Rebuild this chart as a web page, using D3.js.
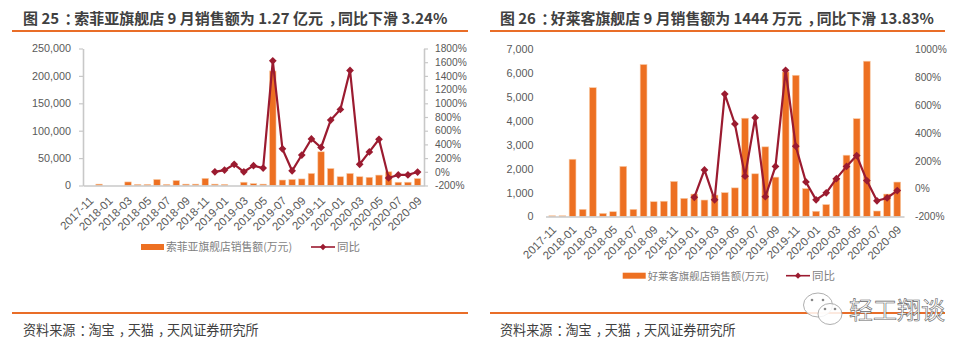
<!DOCTYPE html>
<html>
<head>
<meta charset="utf-8">
<script src="https://cdn.jsdelivr.net/npm/d3@7"></script>
<style>
  html, body { margin: 0; padding: 0; background: #fff; }
  svg { display: block; }
  text { font-family: "Liberation Sans", "Noto Sans CJK SC", sans-serif; }
  .cjk { font-family: "Noto Sans CJK SC", sans-serif; }
</style>
</head>
<body>
<div id="chart"></div>
<script>
const months = ['2017-11','2017-12','2018-01','2018-02','2018-03','2018-04','2018-05','2018-06','2018-07',
  '2018-08','2018-09','2018-10','2018-11','2018-12','2019-01','2019-02','2019-03','2019-04','2019-05',
  '2019-06','2019-07','2019-08','2019-09','2019-10','2019-11','2019-12','2020-01','2020-02','2020-03',
  '2020-04','2020-05','2020-06','2020-07','2020-08','2020-09'];

// 索菲亚
const sofiaSales = [0,2500,0,0,6500,2000,2000,11000,2000,9000,2500,2500,13000,2500,2000,0,6000,3500,2500,
  209000,10000,11000,12000,22000,61500,31000,16000,22000,16000,15000,19000,25000,6000,6000,12700];
const sofiaYoy = [null,null,null,null,null,null,null,null,null,null,null,null,null,0,25,110,0,90,55,
  1620,335,15,245,480,355,755,910,1480,110,290,475,-90,-45,-45,-3.24];
const sofiaLeftTicks = [0,50000,100000,150000,200000,250000];
const sofiaRightTicks = [-200,0,200,400,600,800,1000,1200,1400,1600,1800];

// 好莱客
const holikeSales = [30,30,2400,300,5400,130,200,2100,300,6370,620,640,1470,760,940,690,900,1000,1200,
  4120,1790,2920,1650,6060,5920,1170,220,500,1590,2570,4100,6510,230,940,1444];
const holikeYoy = [null,null,null,null,null,null,null,null,null,null,null,null,null,null,-62,135,-80,680,465,
  90,510,-58,160,850,305,48,-80,-30,72,160,238,58,-87,-67,-13.83];
const holikeLeftTicks = [0,1000,2000,3000,4000,5000,6000,7000];
const holikeRightTicks = [-200,0,200,400,600,800,1000];

const orange = '#ed7022';
const wine = '#9b1b30';
const grey = '#595959';
const axisGrey = '#c8c8c8';

const svg = d3.select('#chart').append('svg')
  .attr('width', 976)
  .attr('height', 353);

// the full width punctuation sits in the middle of its cell in the original
function addCjkText(parent, str, x, y, size, shift) {
  const t = parent.append('text').attr('class', 'cjk')
    .attr('x', x).attr('y', y)
    .attr('font-size', size);
  str.split(/([：，])/).forEach(part => {
    if (!part) return;
    const span = t.append('tspan').text(part);
    if (part === '：' || part === '，') {
      span.attr('dx', shift).attr('letter-spacing', -shift);
    }
  });
  return t;
}

function drawChart(cfg) {
  const x = d3.scaleBand().domain(months).range([cfg.x0, cfg.x1]).padding(0.33);
  const y = d3.scaleLinear().domain(cfg.leftDomain).range([cfg.y0, cfg.y1]);
  const yRight = d3.scaleLinear().domain(cfg.rightDomain).range([cfg.y0, cfg.y1]);
  const g = svg.append('g');

  // title, rules, source
  addCjkText(g, cfg.title, cfg.titleX, 23.5, cfg.titleSize, 5.5)
    .attr('font-weight', 700).attr('fill', '#404040');
  [31, 313].forEach(ry => {
    g.append('line')
      .attr('x1', cfg.ruleX0).attr('x2', cfg.ruleX1)
      .attr('y1', ry).attr('y2', ry)
      .attr('stroke', '#e96d28').attr('stroke-width', 2.2);
  });
  addCjkText(g, '资料来源：淘宝，天猫，天风证券研究所', cfg.titleX, 335, 13.1, 4)
    .attr('fill', '#404040');

  // bars
  g.selectAll('rect.bar')
    .data(cfg.sales.map((v, i) => ({ m: months[i], v })).filter(d => d.v > 0))
    .join('rect')
    .attr('class', 'bar')
    .attr('x', d => x(d.m))
    .attr('width', x.bandwidth())
    .attr('y', d => y(d.v))
    .attr('height', d => cfg.y0 - y(d.v))
    .attr('fill', orange)
    .attr('stroke', '#f8cba6')
    .attr('stroke-width', 0.6);

  // axes
  const xAxis = d3.axisBottom(x)
    .tickValues(months.filter((m, i) => i % 2 === 0))
    .tickSize(0);
  const gx = g.append('g').attr('transform', `translate(0,${cfg.y0})`).call(xAxis);
  gx.select('.domain').attr('stroke', axisGrey).attr('stroke-width', 1.6);
  gx.selectAll('text')
    .attr('font-size', 11.5)
    .attr('fill', grey)
    .attr('text-anchor', 'end')
    .attr('x', 0)
    .attr('y', 0)
    .attr('dy', '0.35em')
    .attr('transform', `translate(${cfg.labelDx},${cfg.labelDy}) rotate(-45)`);

  const leftAxis = d3.axisLeft(y).tickValues(cfg.leftTicks).tickFormat(d3.format(',')).tickSize(cfg.tick).tickPadding(cfg.leftPad).tickSizeOuter(0);
  const gl = g.append('g').attr('transform', `translate(${cfg.x0},0)`).call(leftAxis);
  const rightAxis = d3.axisRight(yRight).tickValues(cfg.rightTicks).tickFormat(d => d + '%').tickSize(cfg.tick).tickPadding(cfg.rightPad).tickSizeOuter(0);
  const gr = g.append('g').attr('transform', `translate(${cfg.x1},0)`).call(rightAxis);
  [gl, gr].forEach(a => {
    a.selectAll('line').attr('stroke', axisGrey).attr('stroke-width', 1.2);
    a.select('.domain').attr('stroke', cfg.tick ? axisGrey : 'none').attr('stroke-width', 1.6);
  });
  gl.selectAll('text').attr('font-size', 10.8).attr('fill', grey);
  gr.selectAll('text').attr('font-size', 10.2).attr('fill', grey);

  // yoy line
  const pts = cfg.yoy.map((v, i) => ({ m: months[i], v })).filter(d => d.v !== null);
  const line = d3.line()
    .x(d => x(d.m) + x.bandwidth() / 2)
    .y(d => yRight(d.v));
  g.append('path')
    .attr('d', line(pts))
    .attr('fill', 'none')
    .attr('stroke', wine)
    .attr('stroke-width', 2.2);
  const diamond = d3.symbol().type(d3.symbolSquare).size(30);
  g.selectAll('path.pt')
    .data(pts)
    .join('path')
    .attr('class', 'pt')
    .attr('d', diamond)
    .attr('fill', wine)
    .attr('transform', d => `translate(${x(d.m) + x.bandwidth() / 2},${yRight(d.v)}) rotate(45)`);

  // legend
  const lg = g.append('g');
  lg.append('rect')
    .attr('x', cfg.legendX).attr('y', cfg.legendY - 3)
    .attr('width', 23).attr('height', 6)
    .attr('fill', orange);
  lg.append('text').attr('class', 'cjk')
    .attr('x', cfg.legendX + 25).attr('y', cfg.legendY + 4)
    .attr('font-size', cfg.legendSize).attr('fill', '#7f7f7f')
    .text(cfg.legendLabel);
  lg.append('line')
    .attr('x1', cfg.lineLegendX).attr('x2', cfg.lineLegendX + 24)
    .attr('y1', cfg.legendY).attr('y2', cfg.legendY)
    .attr('stroke', wine).attr('stroke-width', 1.6);
  lg.append('path')
    .attr('d', d3.symbol().type(d3.symbolSquare).size(20))
    .attr('fill', wine)
    .attr('transform', `translate(${cfg.lineLegendX + 12},${cfg.legendY}) rotate(45)`);
  lg.append('text').attr('class', 'cjk')
    .attr('x', cfg.lineLegendX + 26).attr('y', cfg.legendY + 4)
    .attr('font-size', 11.5).attr('fill', '#7f7f7f')
    .text('同比');
}

drawChart({
  title: '图 25：索菲亚旗舰店 9 月销售额为 1.27 亿元，同比下滑 3.24%',
  titleX: 23, titleSize: 15, ruleX0: 12, ruleX1: 468,
  x0: 83, x1: 424, y0: 185.5, y1: 48.5,
  leftDomain: [0, 250000], rightDomain: [-200, 1800],
  sales: sofiaSales, yoy: sofiaYoy,
  leftTicks: sofiaLeftTicks, rightTicks: sofiaRightTicks,
  tick: 4, leftPad: 8, rightPad: 7,
  labelDx: 2, labelDy: 13,
  legendX: 141, legendY: 247, legendSize: 10.8, lineLegendX: 311,
  legendLabel: '索菲亚旗舰店销售额(万元)'
});

drawChart({
  title: '图 26：好莱客旗舰店 9 月销售额为 1444 万元，同比下滑 13.83%',
  titleX: 500, titleSize: 14.9, ruleX0: 490, ruleX1: 945,
  x0: 545.5, x1: 904, y0: 216.5, y1: 49.5,
  leftDomain: [0, 7000], rightDomain: [-200, 1000],
  sales: holikeSales, yoy: holikeYoy,
  leftTicks: holikeLeftTicks, rightTicks: holikeRightTicks,
  tick: 0, leftPad: 12, rightPad: 11,
  labelDx: 2, labelDy: 11,
  legendX: 622.7, legendY: 275.7, legendSize: 10.4, lineLegendX: 786,
  legendLabel: '好莱客旗舰店销售额(万元)'
});

// watermark
const wm = svg.append('g');
[[818, 305, 14.5, 12], [830, 314, 12, 10.5]].forEach(b => {
  wm.append('ellipse')
    .attr('cx', b[0]).attr('cy', b[1]).attr('rx', b[2]).attr('ry', b[3])
    .attr('fill', '#fff').attr('fill-opacity', 0.85)
    .attr('stroke', '#9a9a9a').attr('stroke-width', 0.8);
});
[[812, 300], [823, 300], [825, 309], [835, 309]].forEach(p => {
  wm.append('circle').attr('cx', p[0]).attr('cy', p[1]).attr('r', 1.3).attr('fill', '#888');
});
wm.append('text').attr('class', 'cjk')
  .attr('x', 849).attr('y', 319)
  .attr('font-size', 24)
  .attr('fill', '#fff').attr('stroke', '#666').attr('stroke-width', 0.6)
  .text('轻工翔谈');
</script>
</body>
</html>
